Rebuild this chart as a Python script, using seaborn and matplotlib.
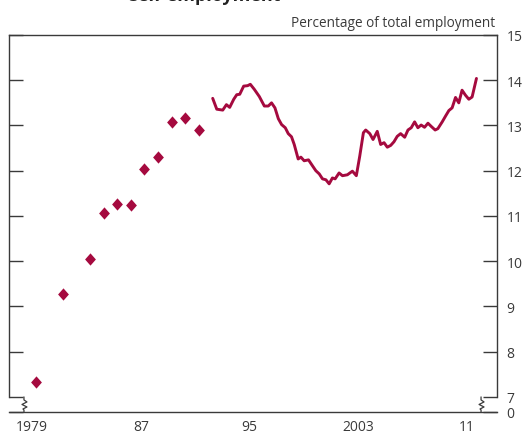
import matplotlib
matplotlib.use('Agg')
import matplotlib.pyplot as plt
from matplotlib.path import Path
import pandas as pd
import seaborn as sns

# annual survey points (diamonds)
annual_years = [1979, 1981, 1983, 1984, 1985, 1986, 1987, 1988, 1989, 1990, 1991]
annual_share = [7.32, 9.27, 10.04, 11.06, 11.27, 11.24, 12.04, 12.31, 13.07, 13.16, 12.91]

# quarterly series (line)
q_years = [1992.28, 1992.58, 1993.02, 1993.29, 1993.53, 1993.83, 1994.05, 1994.27,
           1994.56, 1994.85, 1995.05, 1995.34, 1995.71, 1996.08, 1996.37, 1996.61,
           1996.86, 1997.11, 1997.35, 1997.62, 1997.84, 1998.08, 1998.28, 1998.57,
           1998.77, 1999.01, 1999.33, 1999.62, 1999.87, 2000.12, 2000.36, 2000.61,
           2000.85, 2001.09, 2001.29, 2001.58, 2001.83, 2002.19, 2002.56, 2002.85,
           2003.10, 2003.37, 2003.54, 2003.84, 2004.08, 2004.39, 2004.64, 2004.89,
           2005.13, 2005.38, 2005.62, 2005.86, 2006.11, 2006.41, 2006.65, 2006.89,
           2007.14, 2007.38, 2007.62, 2007.87, 2008.12, 2008.36, 2008.65, 2008.85,
           2009.17, 2009.42, 2009.66, 2009.90, 2010.15, 2010.39, 2010.63, 2010.88,
           2011.13, 2011.37, 2011.69]
q_share = [13.60, 13.36, 13.34, 13.46, 13.40, 13.58, 13.68, 13.69,
           13.87, 13.88, 13.91, 13.80, 13.64, 13.43, 13.43, 13.50,
           13.39, 13.15, 13.02, 12.95, 12.82, 12.75, 12.58, 12.26,
           12.30, 12.22, 12.24, 12.11, 12.00, 11.93, 11.82, 11.80,
           11.71, 11.84, 11.82, 11.95, 11.89, 11.91, 11.99, 11.89,
           12.32, 12.84, 12.90, 12.82, 12.69, 12.87, 12.58, 12.62,
           12.52, 12.56, 12.64, 12.76, 12.82, 12.74, 12.90, 12.95,
           13.08, 12.95, 13.01, 12.96, 13.05, 12.98, 12.90, 12.93,
           13.08, 13.21, 13.33, 13.39, 13.62, 13.50, 13.78, 13.67,
           13.58, 13.63, 14.04]

x_ticks = [1979, 1987, 1995, 2003, 2011]
x_labels = ['1979', '87', '95', '2003', '11']
y_ticks = [7, 8, 9, 10, 11, 12, 13, 14, 15]

red = '#a50a3f'
grey = '#3a3a3a'

sns.set_style('white')
plt.rcParams['font.family'] = ['Open Sans', 'DejaVu Sans']

annual = pd.DataFrame({'year': [y + 0.25 for y in annual_years], 'share': annual_share})
quarterly = pd.DataFrame({'year': q_years, 'share': q_share})

fig = plt.figure(figsize=(5.25, 4.35), dpi=100)
ax = fig.add_axes([9 / 525, 22 / 435, 488 / 525, 377 / 435])

px_x = 1 / 13.625   # years per pixel
px_y = 1 / 45       # points per pixel
y_zero = 7 - 15 * px_y
ax.set_xlim(1979 - 23.3 * px_x, 2011 + 30 * px_x)
ax.set_ylim(y_zero, 15)

diamond = Path([(0, 1), (0.88, 0), (0, -1), (-0.88, 0), (0, 1)],
               [Path.MOVETO, Path.LINETO, Path.LINETO, Path.LINETO, Path.CLOSEPOLY])
sns.scatterplot(data=annual, x='year', y='share', marker=diamond, s=78,
                color=red, linewidth=0, ax=ax, legend=False, zorder=3)
sns.lineplot(data=quarterly, x='year', y='share', color=red, linewidth=2.1,
             ax=ax, legend=False, zorder=3)

# axes frame
for side in ['top', 'bottom', 'left', 'right']:
    ax.spines[side].set_color(grey)
    ax.spines[side].set_linewidth(1.0)
ax.spines['left'].set_bounds(7, 15)
ax.spines['right'].set_bounds(7, 15)

ax.set_xticks(x_ticks)
ax.set_xticklabels(x_labels)
ax.set_yticks([y_zero] + y_ticks)
ax.set_yticklabels(['0'] + [str(v) for v in y_ticks])
ax.tick_params(axis='x', direction='in', length=10, width=1.0, color=grey,
               labelsize=10, labelcolor=grey, pad=5)
ax.tick_params(axis='y', direction='in', length=10, width=1.0, color=grey,
               left=True, right=True, labelleft=False, labelright=True,
               labelsize=10, labelcolor=grey, pad=7)
ax.set_xlabel('')
ax.set_ylabel('')

# axis break marks between 7 and 0
zig = [(0, 0), (0, 3), (3, 5), (-2, 7.5), (3, 10), (-1, 12), (0, 13), (0, 15)]
for x0 in [1979 - 8.3 * px_x, 2011 + 14 * px_x]:
    ax.plot([x0 + dx * px_x for dx, dy in zig], [7 - dy * px_y for dx, dy in zig],
            color=grey, linewidth=0.9, clip_on=False, zorder=4)

ax.text(0.996, 1 + 9 / 377, 'Percentage of total employment', transform=ax.transAxes,
        ha='right', va='baseline', fontsize=9.8, color=grey)
# chart title, cut by the top edge as in the source
fig.text(128 / 525, 1 - 1 / 435, 'Self-employment', ha='left', va='baseline',
         fontsize=13, fontweight='bold', color='#222222')

fig.savefig('out.png', dpi=100)
